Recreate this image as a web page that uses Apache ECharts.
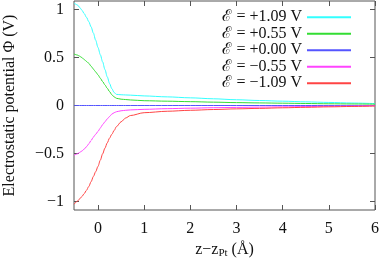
<!DOCTYPE html>
<html><head><meta charset="utf-8">
<script src="https://cdn.jsdelivr.net/npm/echarts@6/dist/echarts.min.js"></script>
<style>html,body{margin:0;padding:0;background:#fff}#c{width:382px;height:263px}</style>
</head><body><div id="c"></div>
<script>
const zValues = [-0.52,-0.45,-0.4,-0.35,-0.3,-0.25,-0.2,-0.15,-0.1,-0.05,0,0.05,0.1,0.15,0.2,0.25,0.3,0.35,0.4,0.5,0.6,0.7,1.0,1.5,2,2.5,3,3.5,4,4.5,5,5.5,6];
const phiP109 = [1.07,1.05,1.025,0.995,0.96,0.92,0.875,0.82,0.755,0.68,0.605,0.53,0.455,0.375,0.30,0.23,0.175,0.135,0.116,0.112,0.11,0.108,0.10,0.09,0.08,0.07,0.06,0.052,0.045,0.038,0.032,0.026,0.02];
const phiP055 = [0.537,0.527,0.515,0.50,0.48,0.46,0.44,0.41,0.38,0.35,0.32,0.285,0.25,0.215,0.18,0.145,0.112,0.09,0.075,0.066,0.062,0.058,0.05,0.045,0.04,0.035,0.03,0.027,0.024,0.021,0.018,0.016,0.014];
const phiP000 = [0,0,0,0,0,0,0,0,0,0,0,0,0,0,0,0,0,0,0,0,0,0,0,0,0,0,0,0,0,0,0,0,0];
const phiM055 = [-0.52,-0.505,-0.49,-0.475,-0.455,-0.43,-0.40,-0.365,-0.33,-0.30,-0.27,-0.235,-0.2,-0.17,-0.14,-0.115,-0.09,-0.075,-0.065,-0.055,-0.05,-0.046,-0.04,-0.033,-0.028,-0.023,-0.02,-0.017,-0.014,-0.011,-0.008,-0.005,-0.002];
const phiM109 = [-1.03,-1.0,-0.975,-0.95,-0.92,-0.885,-0.845,-0.795,-0.74,-0.69,-0.635,-0.57,-0.505,-0.445,-0.39,-0.34,-0.30,-0.26,-0.22,-0.17,-0.13,-0.105,-0.075,-0.06,-0.05,-0.042,-0.035,-0.03,-0.024,-0.019,-0.014,-0.01,-0.006];
const seriesNames = ['ℰ = +1.09 V','ℰ = +0.55 V','ℰ = +0.00 V','ℰ = −0.55 V','ℰ = −1.09 V'];
const seriesColors = ['#33ffff','#33dd33','#5555ff','#ff44ff','#ff4444'];
const xTicks = [0,1,2,3,4,5,6];
const yTicks = [-1,-0.5,0,0.5,1];
const xRange = [-0.52, 6];
const yRange = [-1.09, 1.09];

const allData = [phiP109, phiP055, phiP000, phiM055, phiM109];
const font = 'Liberation Serif';
const fs = 16;
const borderColor = '#555';
const fmt = v => String(v).replace('-', '−');

function tick(vals) {
  return {show: true, inside: true, length: 5, customValues: vals, lineStyle: {color: borderColor}};
}
const noLine = {show: false, onZero: false};

const chart = echarts.init(document.getElementById('c'), null, {renderer: 'canvas'});
chart.setOption({
  animation: false,
  grid: {left: 74, right: 7, top: 1, bottom: 53, containLabel: false, outerBoundsMode: 'none', show: true, borderColor: borderColor, borderWidth: 1, backgroundColor: 'transparent'},
  legend: {
    orient: 'vertical', right: 26, top: 4, align: 'right',
    itemWidth: 44, itemHeight: 2, itemGap: 0, icon: 'rect',
    textStyle: {fontFamily: font, fontSize: fs, color: '#111', lineHeight: 16.5},
    data: seriesNames
  },
  xAxis: [
    {
      type: 'value', min: xRange[0], max: xRange[1], position: 'bottom',
      axisLine: noLine,
      splitLine: {show: false},
      axisTick: tick(xTicks),
      axisLabel: {show: true, customValues: xTicks, formatter: fmt, fontFamily: font, fontSize: fs, color: '#111', margin: 11},
      name: '{n|z−z}{s|Pt}{n| (Å)}', nameLocation: 'middle', nameGap: 31,
      nameTextStyle: {rich: {n: {fontFamily: font, fontSize: fs, color: '#111'}, s: {fontFamily: font, fontSize: 11, color: '#111', verticalAlign: 'bottom', padding: [7,0,0,0]}}}
    },
    {
      type: 'value', min: xRange[0], max: xRange[1], position: 'top',
      axisLine: noLine,
      splitLine: {show: false},
      axisTick: tick(xTicks),
      axisLabel: {show: false}
    }
  ],
  yAxis: [
    {
      type: 'value', min: yRange[0], max: yRange[1], position: 'left',
      axisLine: noLine,
      splitLine: {show: false},
      axisTick: tick(yTicks),
      axisLabel: {show: true, customValues: yTicks, formatter: fmt, fontFamily: font, fontSize: fs, color: '#111', margin: 10},
      name: 'Electrostatic potential Φ (V)', nameLocation: 'middle', nameGap: 56, nameRotate: 90,
      nameTextStyle: {fontFamily: font, fontSize: fs, color: '#111'}
    },
    {
      type: 'value', min: yRange[0], max: yRange[1], position: 'right',
      axisLine: noLine,
      splitLine: {show: false},
      axisTick: tick(yTicks),
      axisLabel: {show: false}
    }
  ],
  series: allData.map((arr, i) => ({
    name: seriesNames[i], type: 'line', xAxisIndex: 0, yAxisIndex: 0,
    data: zValues.map((z, j) => [z, arr[j]]),
    showSymbol: false, symbol: 'none', smooth: 0.3, smoothMonotone: 'x',
    lineStyle: {color: seriesColors[i], width: 1}, itemStyle: {color: seriesColors[i]},
    clip: true, z: 5
  }))
});
</script></body></html>
